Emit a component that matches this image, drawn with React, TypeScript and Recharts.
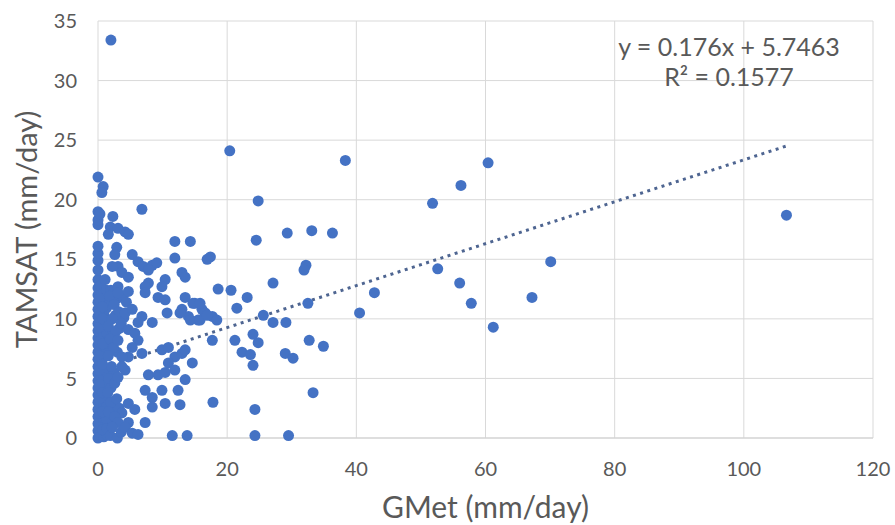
import React from 'react';
import { ScatterChart, Scatter, XAxis, YAxis, CartesianGrid, Label } from 'recharts';

// GMet (x) and TAMSAT (y) values
const gmet = [
  0, 0, 0, 0, 0, 0, 0, 0, 0, 0, 0, 0, 0, 0, 0, 0, 0, 0, 0, 0, 0, 0, 0, 0, 0, 0, 0, 0, 0, 0, 0,
  0.5, 0.5, 0.5, 0.5, 0.5, 0.5, 0.5, 0.5, 0.5, 0.5, 0.5, 0.5, 0.5, 0.5, 0.5, 0.5, 0.4, 0.3,
  0.9, 0.9, 0.9, 0.9, 0.9, 0.9, 0.9, 0.9, 0.9, 0.9, 0.9, 0.8, 0.6,
  1.3, 1.3, 1.3, 1.3, 1.3, 1.3, 1.3, 1.3, 1.3, 1.3, 1.3, 1.3, 1.3,
  0.2, 0.2, 0.2, 0.2, 0.2, 0.2, 0.2, 0.2, 0.2, 0.2,
  0.7, 0.7, 0.7, 0.7, 0.7, 0.7, 0.7,
  2.0, 2.9, 3.8, 4.0, 2.7, 3.3, 2.3, 3.0, 2.5, 2.0, 2.5, 3.3,
  1.8, 2.5, 3.2, 2.2, 1.6, 2.8, 3.6, 4.4, 1.9, 2.4, 1.6, 2.1, 1.7, 2.6, 1.5, 2.0, 2.9, 1.6, 2.3, 1.4, 1.9, 3.0, 3.6,
  6.8, 2.3, 1.9, 3.1, 4.2, 4.7, 1.6, 11.9, 14.3, 11.9, 17.4, 16.9, 2.9, 2.6, 5.3, 6.2, 7.0, 8.4, 9.1, 7.8,
  3.1, 2.2, 3.7, 1.1, 4.7, 13.0, 13.5, 10.4, 7.8, 7.3, 9.9, 3.1, 18.6, 20.6, 2.0, 20.4,
  3.1, 4.7, 7.3, 9.3, 10.4, 13.5, 15.0, 16.1, 17.7, 18.4, 13.0, 14.0, 15.5, 16.6,
  4.2, 5.3, 6.8, 6.2, 8.4, 10.7, 4.7, 5.7, 6.2, 5.3, 4.7, 6.8, 3.1, 3.7, 4.2, 3.1, 3.7,
  17.7, 21.2, 22.3, 9.9, 10.9, 11.9, 13.0, 13.5, 10.9, 11.9, 14.6, 7.8, 9.3, 10.4, 13.5, 12.4,
  7.3, 8.4, 9.9, 10.4, 12.7, 8.4, 17.8, 4.7, 5.7, 3.7, 2.6, 3.1, 2.2, 4.7, 4.2, 5.3, 6.2, 7.3, 11.5, 13.8,
  23.1, 21.5, 12.7, 14.7, 14.3, 15.8, 15.8, 16.9,
  25.6, 27.1, 29.1, 24.0, 24.8, 23.6, 24.0, 32.7, 34.9, 29.0, 30.2, 33.3, 24.3, 24.3, 29.5, 42.8, 40.5, 32.5,
  24.8, 24.5, 29.3, 33.1, 36.3, 32.2, 31.9, 27.1, 38.3,
  60.4, 56.2, 51.8, 106.6, 70.1, 67.2, 61.2, 57.8, 56.0, 52.6,
];
const tamsat = [
  0, 0.6, 1.2, 1.8, 2.4, 3.0, 3.6, 4.2, 4.8, 5.4, 6.0, 6.6, 7.2, 7.8, 8.4, 9.0, 9.6, 10.2, 10.8, 11.4, 12.0, 12.6, 13.3, 14.1, 14.9, 15.5, 16.1, 17.9, 18.3, 19.0, 21.9,
  0.2, 1.0, 1.9, 2.7, 3.5, 4.4, 5.0, 5.9, 6.8, 7.5, 8.2, 9.1, 9.9, 10.6, 11.3, 12.1, 12.8, 18.8,
  0.1, 1.4, 2.9, 4.0, 5.2, 7.0, 8.6, 9.4, 10.4, 11.7, 12.2, 21.1, 20.6,
  0.3, 1.6, 2.6, 3.4, 4.6, 5.6, 7.4, 8.0, 8.9, 9.8, 10.9, 11.6, 12.4,
  0.9, 2.1, 3.3, 4.5, 5.7, 6.9, 8.1, 9.3, 10.5, 11.7,
  0.7, 2.2, 3.8, 6.2, 7.9, 10.0, 11.0,
  12.4, 11.7, 11.9, 10.1, 10.3, 9.2, 8.8, 7.2, 5.5, 4.2, 2.6, 2.5,
  11.9, 11.2, 10.6, 10.0, 9.4, 9.0, 9.6, 11.4, 8.3, 7.6, 6.9, 6.0, 5.0, 4.6, 3.8, 3.0, 3.3, 2.2, 1.4, 0.8, 0.2, 0.0, 0.5,
  19.2, 18.6, 17.7, 17.6, 17.3, 17.1, 17.1, 16.5, 16.5, 15.1, 15.2, 15.0, 16.0, 15.4, 15.4, 14.8, 14.4, 14.5, 14.7, 14.1,
  14.4, 14.4, 13.9, 13.3, 13.5, 13.9, 13.5, 13.3, 13.0, 12.7, 12.7, 12.7, 12.5, 12.4, 33.4, 24.1,
  12.2, 12.3, 12.2, 11.8, 11.6, 11.8, 11.3, 10.8, 10.2, 9.9, 10.8, 10.2, 9.9, 10.5,
  10.5, 10.8, 10.2, 9.7, 9.7, 10.5, 9.1, 8.8, 8.2, 7.6, 6.8, 7.1, 8.2, 6.8, 5.7, 5.1, 6.0,
  8.2, 8.2, 7.2, 7.4, 7.6, 6.8, 7.1, 7.4, 6.3, 5.7, 6.3, 5.3, 5.3, 5.5, 4.9, 4.0,
  4.0, 3.4, 4.0, 2.9, 2.8, 2.6, 3.0, 2.9, 2.4, 2.1, 1.8, 1.3, 0.9, 1.3, 0.9, 0.4, 0.3, 1.3, 0.2, 0.2,
  11.8, 10.9, 10.5, 11.3, 9.9, 9.9, 11.3, 10.3,
  10.3, 9.7, 9.7, 8.7, 8.0, 7.0, 6.1, 8.2, 7.7, 7.1, 6.7, 3.8, 2.4, 0.2, 0.2, 12.2, 10.5, 11.3,
  19.9, 16.6, 17.2, 17.4, 17.2, 14.5, 14.1, 13.0, 23.3,
  23.1, 21.2, 19.7, 18.7, 14.8, 11.8, 9.3, 11.3, 13.0, 14.2,
];

// Linear trendline end points (y = 0.176x + 5.7463)
const trendX = [0, 106.6];
const trendY = [5.75, 24.51];

const xTicks = [0, 20, 40, 60, 80, 100, 120];
const yTicks = [0, 5, 10, 15, 20, 25, 30, 35];

const xTitle = 'GMet (mm/day)';
const yTitle = 'TAMSAT (mm/day)';
const equationText = 'y = 0.176x + 5.7463';
const r2Text = 'R² = 0.1577';

const points = gmet.map((x, i) => ({ x, y: tamsat[i] }));
const trend = trendX.map((x, i) => ({ x, y: trendY[i] }));

const FONT = 'Lato, "Open Sans", sans-serif';
const TEXT = '#595959';
const BLUE = '#4472C4';

const Dot = (props: any) => {
  const { cx, cy } = props;
  if (cx == null || cy == null) return <g />;
  return <circle cx={cx} cy={cy} r={5.5} fill={BLUE} />;
};

const NoShape = () => <g />;

export default function App() {
  return (
    <div style={{ position: 'absolute', left: 0, top: 0, background: '#fff' }}>
      <ScatterChart width={895} height={525} margin={{ top: 21, right: 22, bottom: 0, left: 0 }}>
        <CartesianGrid stroke="#d9d9d9" strokeWidth={1} />
        <XAxis
          type="number"
          dataKey="x"
          domain={[0, 120]}
          ticks={xTicks}
          height={87}
          axisLine={{ stroke: '#d0d0d0' }}
          tickLine={false}
          tickMargin={18}
          tick={{ fill: TEXT, fontSize: 20, fontFamily: FONT }}
        >
          <Label value={xTitle} position="insideBottom" offset={7} fill={TEXT} fontSize={30} fontFamily={FONT} />
          <Label
            content={() => (
              <g>
                <text x={729} y={56} textAnchor="middle" fill={TEXT} fontSize={25} fontFamily={FONT}>
                  {equationText}
                </text>
                <text x={729} y={86} textAnchor="middle" fill={TEXT} fontSize={25} fontFamily={FONT}>
                  {r2Text}
                </text>
              </g>
            )}
          />
        </XAxis>
        <YAxis
          type="number"
          dataKey="y"
          domain={[0, 35]}
          ticks={yTicks}
          width={98}
          axisLine={false}
          tickLine={false}
          tickMargin={15}
          tick={{ fill: TEXT, fontSize: 20, fontFamily: FONT }}
        >
          <Label
            content={(p: any) => {
              const vb = p.viewBox || {};
              const cx = 37;
              const cy = (vb.y ?? 21) + (vb.height ?? 417) / 2;
              return (
                <text
                  x={cx}
                  y={cy}
                  transform={`rotate(-90, ${cx}, ${cy})`}
                  textAnchor="middle"
                  fill={TEXT}
                  fontSize={29}
                  fontFamily={FONT}
                >
                  {yTitle}
                </text>
              );
            }}
          />
        </YAxis>
        <Scatter
          data={trend}
          line={{ stroke: '#4E6591', strokeWidth: 3, strokeDasharray: '3 4.5' }}
          shape={NoShape}
          isAnimationActive={false}
          legendType="none"
        />
        <Scatter data={points} shape={Dot} fill={BLUE} isAnimationActive={false} />
      </ScatterChart>
    </div>
  );
}
